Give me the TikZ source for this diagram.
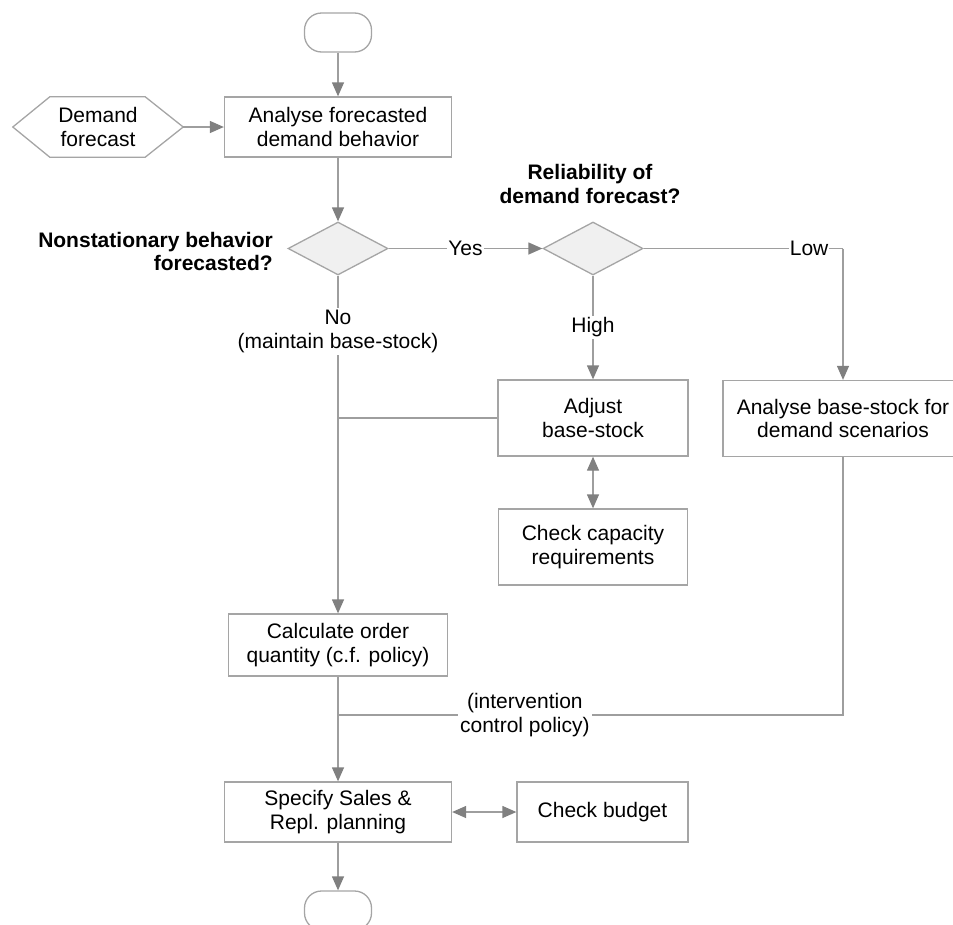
\documentclass[tikz,border=0pt]{standalone}
\usepackage{fontspec}
\setmainfont{Liberation Sans}
\usetikzlibrary{arrows.meta,shapes.geometric}
\definecolor{linegray}{RGB}{158,158,158}
\definecolor{tipgray}{RGB}{128,128,128}
\definecolor{boxgray}{RGB}{165,165,165}
\definecolor{decfill}{RGB}{240,240,240}
\begin{document}
\begin{tikzpicture}[x=1pt,y=-1pt,
  every node/.style={font=\fontsize{21}{23.5}\selectfont},
  box/.style={draw=boxgray,line width=1.3pt,fill=white,inner sep=0pt,align=center},
  terminal/.style={box,rounded corners=17pt,minimum width=67pt,minimum height=39pt},
  decision/.style={diamond,draw=boxgray,line width=1.3pt,fill=decfill,inner sep=0pt,
    minimum width=100pt,minimum height=53pt},
  question/.style={font=\bfseries\fontsize{21}{23.5}\selectfont,inner sep=0pt},
  conn/.style={draw=linegray,line width=1.3pt},
  tip/.tip={Triangle[length=14pt,width=12pt,color=tipgray]},
  flow/.style={conn,-tip},
  both/.style={conn,tip-tip},
  lbl/.style={fill=white,inner sep=2pt,align=center},
]
\useasboundingbox (0,0) rectangle (953,924);
\clip (0,0) rectangle (953,924);

% nodes of the flow
\node[terminal] (start) at (338,32.5) {};
\node[inner sep=0pt,minimum width=170pt,minimum height=60pt,align=center] (dfc) at (98,127) {Demand\\forecast};
\draw[draw=boxgray,line width=1.3pt]
  (dfc.west) -- ([xshift=37pt]dfc.north west) -- ([xshift=-38pt]dfc.north east)
  -- (dfc.east) -- ([xshift=-38pt]dfc.south east) -- ([xshift=37pt]dfc.south west) -- cycle;
\node[box,minimum width=227pt,minimum height=60pt] (ana) at (338,127) {Analyse forecasted\\demand behavior};

\node[decision] (d1) at (338,248.5) {};
\node[decision] (d2) at (593,248.5) {};
\node[question,anchor=east,align=right] (q1) at (273,251.5) {Nonstationary behavior\\forecasted?};
\node[question,align=center] (q2) at (590,184) {Reliability of\\demand forecast?};

\node[box,minimum width=190pt,minimum height=76pt] (adj) at (593,418) {Adjust\\base-stock};
\node[box,minimum width=240pt,minimum height=76pt] (abs) at (843,418.5) {Analyse base-stock for\\demand scenarios};
\node[box,minimum width=189pt,minimum height=76pt] (cap) at (593,547) {Check capacity\\requirements};

\node[box,minimum width=219pt,minimum height=62pt] (calc) at (338,645) {Calculate order\\quantity (c.f. policy)};
\node[box,minimum width=227pt,minimum height=60pt] (spec) at (338,812) {Specify Sales \&\\Repl. planning};
\node[box,minimum width=171pt,minimum height=60pt] (bud) at (602.5,812) {Check budget};
\node[terminal] (end) at (338,910.5) {};

\coordinate (lowturn) at (843,248.5);
\coordinate (merge) at (338,715);

% connectors
\draw[flow] (start) -- (ana);
\draw[flow] (dfc.east) -- (ana.west);
\draw[flow] (ana) -- (d1);
\draw[flow] (d1.east) -- node[lbl,inner sep=1pt] {Yes} (d2.west);
\draw[conn] (d2.east) -- node[lbl,inner sep=1pt,pos=0.83] {Low} (lowturn);
\draw[flow] (lowturn) -- (abs.north);
\draw[flow] (d2.south) -- node[lbl] {High} (adj.north);
\draw[flow] (d1.south) -- node[lbl,pos=0.165] {No\\(maintain base-stock)} (calc.north);
\draw[conn] (adj.west) -- (adj.west -| d1.south);
\draw[both] (adj.south) -- (cap.north);
\draw[flow] (calc.south) -- (spec.north);
\draw[conn] (abs.south) |- node[lbl,pos=0.815] {(intervention\\control policy)} (merge);
\draw[both] (spec.east) -- (bud.west);
\draw[flow] (spec.south) -- (end.north);
\end{tikzpicture}
\end{document}
